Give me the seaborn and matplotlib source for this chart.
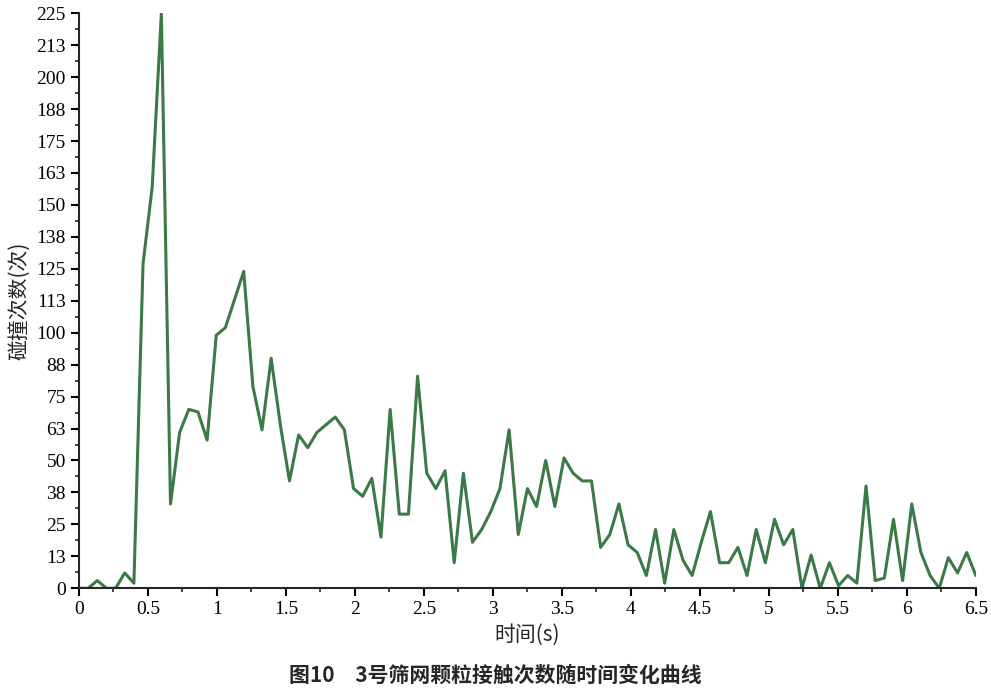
import numpy as np
import pandas as pd
import matplotlib
matplotlib.use("Agg")
import matplotlib.pyplot as plt
import seaborn as sns
from matplotlib.ticker import MultipleLocator

counts = [0, 0, 3, 0, 0, 6, 2, 127, 157, 225, 33, 61, 70, 69, 58, 99, 102, 113, 124, 79,
          62, 90, 64, 42, 60, 55, 61, 64, 67, 62, 39, 36, 43, 20, 70, 29, 29, 83, 45, 39,
          46, 10, 45, 18, 23, 30, 39, 62, 21, 39, 32, 50, 32, 51, 45, 42, 42, 16, 21, 33,
          17, 14, 5, 23, 2, 23, 11, 5, 18, 30, 10, 10, 16, 5, 23, 10, 27, 17, 23, 0,
          13, 0, 10, 1, 5, 2, 40, 3, 4, 27, 3, 33, 14, 5, 0, 12, 6, 14, 5]
times = np.linspace(0, 6.5, len(counts))
ytick_vals = [12.5 * k for k in range(19)]
ytick_labels = ["0", "13", "25", "38", "50", "63", "75", "88", "100", "113", "125",
                "138", "150", "163", "175", "188", "200", "213", "225"]
xtick_vals = [0, 0.5, 1, 1.5, 2, 2.5, 3, 3.5, 4, 4.5, 5, 5.5, 6, 6.5]
xtick_labels = ["0", "0.5", "1", "1.5", "2", "2.5", "3", "3.5", "4", "4.5", "5", "5.5", "6", "6.5"]

sns.set_style("ticks")
plt.rcParams['font.family'] = ['Liberation Serif', 'Noto Sans CJK SC']

fig = plt.figure(figsize=(9.91, 6.97), dpi=100)
ax = fig.add_axes([0.0797, 0.156, 0.905, 0.825])
df = pd.DataFrame({"t": times, "n": counts})
sns.lineplot(data=df, x="t", y="n", ax=ax, color="#3b7a46", linewidth=2.2)
ax.set_xlim(0, 6.5)
ax.set_ylim(0, 225)
ax.set_xticks(xtick_vals)
ax.set_xticklabels(xtick_labels, fontsize=14)
ax.set_yticks(ytick_vals)
ax.set_yticklabels(ytick_labels, fontsize=14)
ax.xaxis.set_minor_locator(MultipleLocator(0.25))
ax.yaxis.set_minor_locator(MultipleLocator(6.25))
ax.tick_params(which="major", direction="out", length=6, width=1.5, colors="black")
ax.tick_params(which="minor", direction="out", length=3, width=1.2)
for s in ["left", "bottom"]:
    ax.spines[s].set_linewidth(1.5)
sns.despine(ax=ax)
ax.set_xlabel("时间(s)", fontsize=15, family=['Noto Sans CJK SC', 'Liberation Serif'])
ax.set_ylabel("碰撞次数(次)", fontsize=15, family=['Noto Sans CJK SC', 'Liberation Serif'])
fig.text(0.5, 0.022, "图10　3号筛网颗粒接触次数随时间变化曲线", ha="center", fontsize=15,
         fontweight="bold", family=['Noto Sans CJK SC', 'DejaVu Sans'])
fig.savefig("out.png", dpi=100)
